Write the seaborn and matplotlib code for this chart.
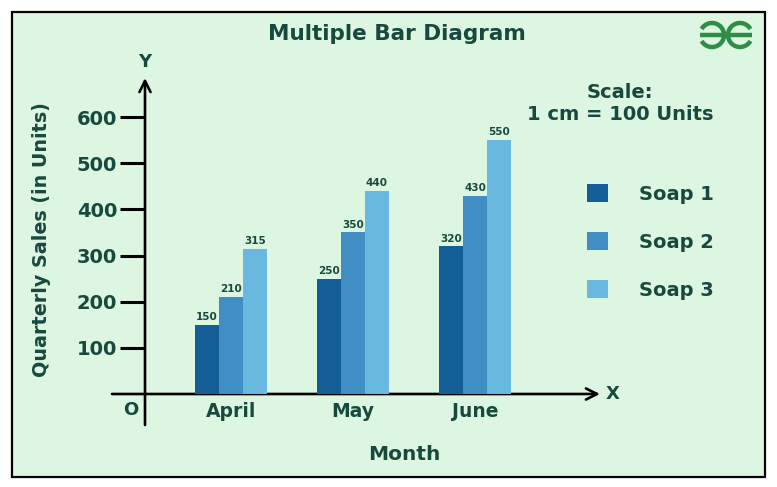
import matplotlib
matplotlib.use("Agg")
import matplotlib.pyplot as plt
from matplotlib.patches import Rectangle, Arc
import pandas as pd
import seaborn as sns

# chart data
months = ["April", "May", "June"]
soaps = ["Soap 1", "Soap 2", "Soap 3"]
soap1 = [150, 250, 320]
soap2 = [210, 350, 430]
soap3 = [315, 440, 550]
y_ticks = [100, 200, 300, 400, 500, 600]

bar_colors = ["#135e96", "#418ec4", "#69b8e0"]
bg = "#dcf6e2"
ink = "#17493d"

df = pd.DataFrame({
    "Month": months * 3,
    "Sales": soap1 + soap2 + soap3,
    "Soap": [s for s in soaps for _ in months],
})

sns.set_theme(style="white")
plt.rcParams["font.family"] = ["DejaVu Sans"]

W, H = 777, 487
fig = plt.figure(figsize=(W / 100, H / 100), dpi=100, facecolor="white")

# overlay in pixel coordinates for the frame and decorations
deco = fig.add_axes([0, 0, 1, 1], zorder=0)
deco.set_xlim(0, W)
deco.set_ylim(H, 0)
deco.axis("off")
deco.add_patch(Rectangle((12, 12), 753, 465, facecolor=bg, edgecolor="black", lw=1.6))

# main axes: y axis at px 145, x axis at px 394
left, right, top, bottom = 145, 600, 78, 394
ax = fig.add_axes([left / W, (H - bottom) / H, (right - left) / W, (bottom - top) / H], zorder=1)
ax.set_facecolor("none")

sns.barplot(data=df, x="Month", y="Sales", hue="Soap", palette=bar_colors,
            width=0.59, gap=0, saturation=1, linewidth=0, ax=ax, legend=True)

ax.set_xlim((left - 231) / 122, (right - 231) / 122)
ax.set_ylim(0, (bottom - top) / 0.4615)
for s in ax.spines.values():
    s.set_visible(False)

for c in ax.containers:
    ax.bar_label(c, padding=2, fontsize=7.5, fontweight="bold", color=ink)

ax.set_yticks(y_ticks)
ax.set_yticklabels([str(t) for t in y_ticks], fontsize=14, fontweight="bold", color=ink)
ax.tick_params(axis="y", direction="out", length=18, width=2.2, color="black", pad=2, left=True)
ax.tick_params(axis="x", length=0, pad=6)
for lab in ax.get_xticklabels():
    lab.set_fontsize(13.5)
    lab.set_fontweight("bold")
    lab.set_color(ink)
ax.set_xlabel("")
ax.set_ylabel("")

# legend on the right
handles, labels = ax.get_legend_handles_labels()
ax.legend(handles, labels, loc="upper left", bbox_to_anchor=(587 / W, 1 - 184 / H),
          bbox_transform=fig.transFigure, frameon=False, borderpad=0, borderaxespad=0,
          handlelength=1.08, handleheight=1.08, labelspacing=1.45, handletextpad=1.6,
          prop={"size": 14, "weight": "bold"}, labelcolor=ink)

# axes lines with arrows
arrow = dict(arrowstyle="->", lw=1.9, color="black", mutation_scale=20, shrinkA=0, shrinkB=0)
deco.annotate("", xy=(145, 78), xytext=(145, 425), arrowprops=arrow)
deco.annotate("", xy=(600, 394), xytext=(112, 394), arrowprops=arrow)

txt = dict(color=ink, fontweight="bold", ha="center", va="center")
deco.text(145, 62, "Y", fontsize=13, **txt)
deco.text(613, 394, "X", fontsize=13, **txt)
deco.text(131, 410, "O", fontsize=13, **txt)
deco.text(397, 34, "Multiple Bar Diagram", fontsize=15.5, **txt)
deco.text(404, 455, "Month", fontsize=14.5, **txt)
deco.text(42, 240, "Quarterly Sales (in Units)", fontsize=13.8, rotation=90, **txt)
deco.text(620, 92, "Scale:", fontsize=14, **txt)
deco.text(620, 114, "1 cm = 100 Units", fontsize=14, **txt)

# logo
green = "#2f8d46"
deco.add_patch(Arc((712, 35), 24, 24, theta1=-150, theta2=150, lw=3.2, color=green))
deco.add_patch(Arc((740, 35), 24, 24, theta1=30, theta2=330, lw=3.2, color=green))
deco.plot([700, 752], [35, 35], color=green, lw=3.2, solid_capstyle="butt")

fig.savefig("out.png", dpi=100, facecolor="white")
